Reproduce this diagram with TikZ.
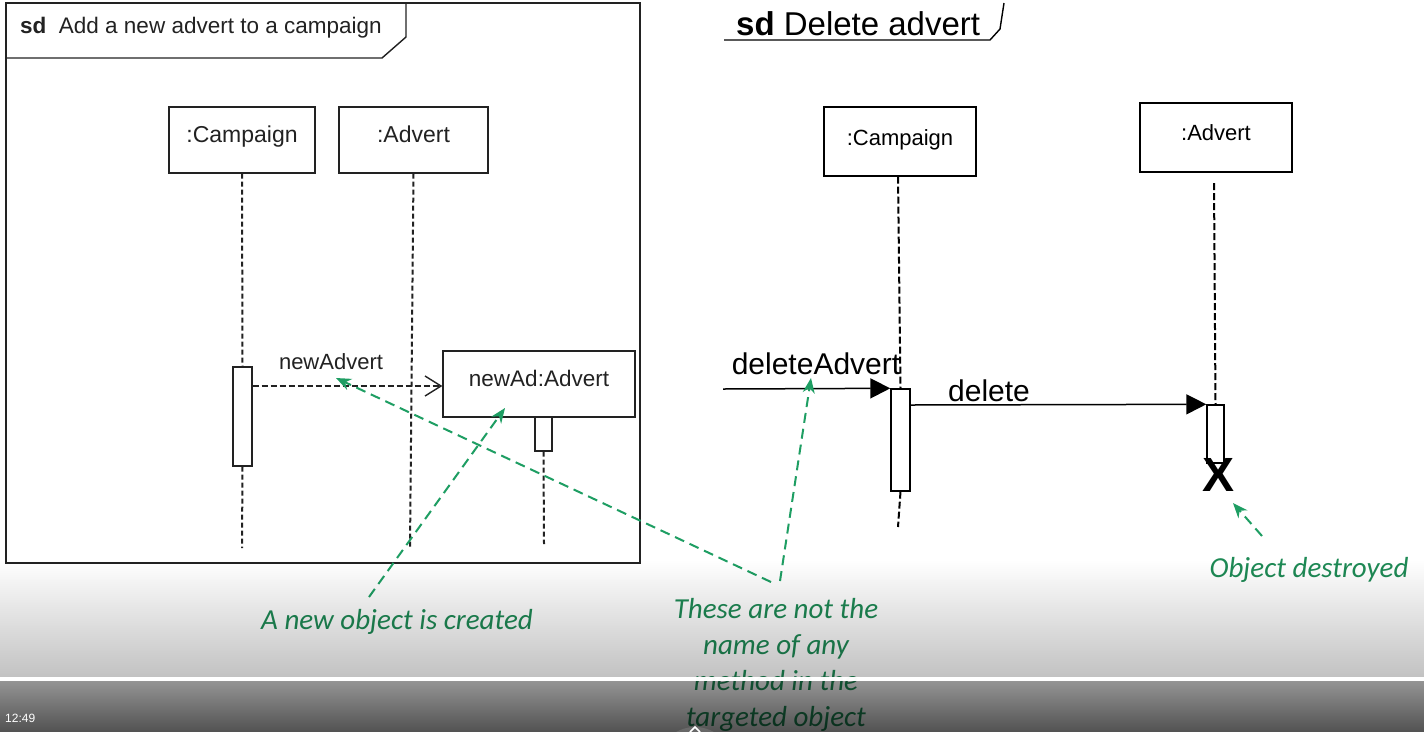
\documentclass[tikz,border=0pt]{standalone}
\usepackage{fontspec}
\setmainfont{Liberation Sans}
\newfontfamily\calfont{Carlito}
\usetikzlibrary{arrows.meta,fadings}
\definecolor{annot}{HTML}{1E8A55}
\definecolor{annotline}{HTML}{1E9E63}
\definecolor{ink}{HTML}{222222}
\tikzfading[name=fadeA, top color=transparent!100, bottom color=transparent!76]
\tikzfading[name=fadeB, top color=transparent!58, bottom color=transparent!32]
\tikzset{
  objbox/.style={draw=ink, line width=1.3pt, fill=white, inner sep=0pt, font=\fontsize{23}{26}\selectfont, text=ink, text depth=11pt},
  objboxR/.style={draw=black, line width=1.4pt, fill=white, inner sep=0pt, font=\fontsize{22}{25}\selectfont},
  actbar/.style={draw=ink, line width=1.3pt, fill=white, inner sep=0pt, minimum width=19pt},
  lifeline/.style={draw=ink, line width=2pt, dash pattern=on 5pt off 3pt},
  lifelineR/.style={draw=black, line width=2pt, dash pattern=on 7pt off 3pt},
  annarrow/.style={draw=annotline, line width=2pt, dash pattern=on 10pt off 6pt, -{Stealth[length=15pt,width=12pt]}},
  anntext/.style={text=annot, font=\calfont\itshape\fontsize{29}{36}\selectfont, align=center},
}
\begin{document}
\begin{tikzpicture}[x=1pt,y=-1pt]
\useasboundingbox (0,0) rectangle (1424,732);
\fill[white] (0,0) rectangle (1424,732);

% ===== Left frame =====
\draw[ink, line width=1.4pt] (6,3) rectangle (640,563);
\draw[ink, line width=1.4pt] (6,58) -- (382,58) -- (406,37) -- (406,3);
\node[anchor=base west, text=ink, font=\fontsize{22.5}{26}\selectfont, inner sep=0pt] (ftitle) at (20,33) {\textbf{sd}\ \ Add a new advert to a campaign};

\node[objbox, minimum width=146pt, minimum height=66pt] (lc) at (242,140) {:Campaign};
\node[objbox, minimum width=149pt, minimum height=66pt] (la) at (413.5,140) {:Advert};
\node[actbar, minimum height=99pt] (lcact) at (242.5,416.5) {};
\coordinate (lcend) at (242,548);
\coordinate (laend) at (410,547);
\draw[lifeline] (lc.south) -- (lcact.north);
\draw[lifeline] (lcact.south) -- (lcend);
\draw[lifeline] (la.south) -- (laend);

\node[objbox, minimum width=192pt, minimum height=66pt, font=\fontsize{22.5}{26}\selectfont] (nad) at (539,384) {newAd:Advert};
\node[actbar, minimum width=17pt, minimum height=34pt] (nadact) at (543.5,434) {};
\coordinate (nadend) at (544,544);
\draw[lifeline] (nadact.south) -- (nadend);

\draw[ink, line width=1.5pt, dash pattern=on 6pt off 3pt, -{Straight Barb[length=16pt,width=20pt,line width=1.4pt]}] (lcact.east |- 0,386) -- (nad.west |- 0,386);
\node[text=ink, font=\fontsize{22}{26}\selectfont] (lnew) at (331,362) {newAdvert};

% ===== Right diagram =====
\node[anchor=base west, font=\fontsize{33}{38}\selectfont, inner sep=0pt] (rtitle) at (736,35) {\textbf{sd} Delete advert};
\draw[black, line width=1.4pt] (724,40) -- (990,40) -- (1000,29) -- (1004,3);

\node[objboxR, minimum width=152pt, minimum height=69pt, text depth=7pt] (rc) at (900,141.5) {:Campaign};
\node[objboxR, minimum width=152pt, minimum height=69pt, text depth=9pt] (ra) at (1216,137.5) {:Advert};
\node[actbar, draw=black, line width=1.4pt, minimum height=102pt] (rcact) at (900.5,440) {};
\coordinate (rcend) at (898,527);
\draw[lifelineR] (rc.south -| 898,0) -- (rcact.north);
\draw[lifelineR] (rcact.south) -- (rcend);

\node[actbar, draw=black, line width=1.4pt, minimum width=17pt, minimum height=58pt] (raact) at (1215.5,434) {};
\coordinate (rastart) at (1214,183);
\draw[lifelineR] (rastart) -- (raact.north);
\node[font=\bfseries\fontsize{48}{50}\selectfont, inner sep=0pt] (xmark) at (1218,475) {X};

\coordinate (dastart) at (723,389);
\draw[black, line width=1.5pt, -{Triangle[length=20pt,width=20pt]}] (dastart) -- (rcact.north west);
\node[font=\fontsize{30}{34}\selectfont, inner sep=0pt] (ldel) at (816,364) {deleteAdvert};
\draw[black, line width=1.5pt, -{Triangle[length=20pt,width=20pt]}] (rcact.east |- 0,405) -- (raact.north west);
\node[font=\fontsize{30}{34}\selectfont, inner sep=0pt] (ldel2) at (989,391) {delete};

% ===== Annotations =====
\node[anchor=base, anntext] (t1) at (397,629) {A new object is created};
\node[anchor=base, anntext] (t2) at (776,726) {These are not the\\name of any\\method in the\\targeted object};
\node[anchor=base, anntext] (t3) at (1309,577) {Object destroyed};

\coordinate (c1a) at (369,597);
\coordinate (c1b) at (505,408);
\coordinate (c2a) at (771,582);
\coordinate (c2b) at (336,378);
\coordinate (c3a) at (780,581);
\coordinate (c3b) at (811,378);
\coordinate (c4a) at (1262,536);
\coordinate (c4b) at (1233,503);
\draw[annarrow] (c1a) -- (c1b);
\draw[annarrow] (c2a) -- (c2b);
\draw[annarrow] (c3a) -- (c3b);
\draw[annarrow] (c4a) -- (c4b);

% ===== Video player overlay =====
\fill[black, path fading=fadeA] (0,560) rectangle (1424,677);
\fill[black, path fading=fadeB] (0,681) rectangle (1424,732);
\fill[white, opacity=0.6] (0,677) rectangle (1424,681);
\fill[white, opacity=0.95] (0,677) rectangle (1026,681);
\begin{scope}
\clip (0,0) rectangle (1424,732);
\fill[white, opacity=0.12] (695,765) circle (38);
\end{scope}
\draw[white, line width=1.5pt] (690,732) -- (695,727) -- (700,732);
\node[anchor=base west, text=white, font=\fontsize{12}{14}\selectfont, inner sep=0pt] (time) at (5,722) {12:49};
\end{tikzpicture}
\end{document}
